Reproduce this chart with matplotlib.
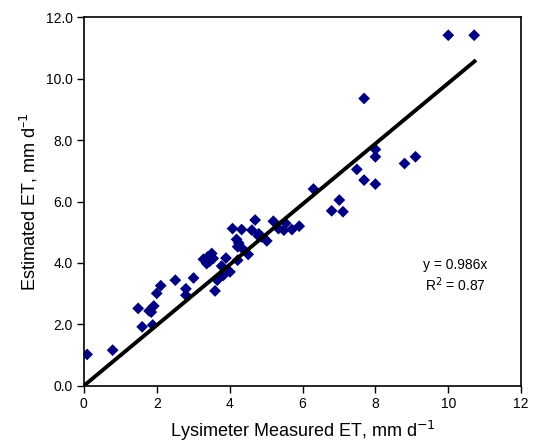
import numpy as np
import matplotlib.pyplot as plt

plt.rcParams['font.family'] = ['Liberation Sans', 'DejaVu Sans']

# lysimeter measured ET (x) and estimated ET (y), mm/d
measured = [0.09, 0.79, 1.49, 1.60, 1.79, 1.92, 1.89, 2.00, 2.11, 2.51,
            2.80, 2.80, 3.01, 3.28, 3.37, 3.51, 3.55, 3.60, 3.66, 3.78,
            3.90, 3.83, 4.01, 4.08, 4.33, 4.19, 4.22, 4.35, 4.22, 4.51,
            4.61, 4.70, 4.79, 4.88, 5.02, 5.20, 5.34, 5.49, 5.54, 5.71,
            5.91, 6.30, 6.80, 7.01, 7.11, 7.49, 7.69, 7.69, 8.00, 8.00,
            8.00, 8.80, 9.10, 10.00, 10.71, 3.45, 3.40, 1.85, 4.25, 4.80]
estimated = [1.02, 1.16, 2.52, 1.92, 2.44, 2.60, 1.98, 3.01, 3.26, 3.44,
             3.16, 2.95, 3.51, 4.12, 3.98, 4.31, 4.15, 3.09, 3.44, 3.90,
             4.16, 3.60, 3.71, 5.12, 5.09, 4.77, 4.53, 4.47, 4.09, 4.28,
             5.07, 5.40, 4.88, 4.85, 4.72, 5.36, 5.12, 5.07, 5.29, 5.09,
             5.20, 6.41, 5.70, 6.05, 5.67, 7.05, 6.70, 9.36, 7.70, 7.46,
             6.57, 7.24, 7.46, 11.42, 11.42, 4.05, 4.20, 2.40, 4.65, 4.95]

slope = 0.986
fit_x = [0.0, 10.72]

fig = plt.figure(figsize=(5.34, 4.47), dpi=100)
ax = fig.add_axes([0.157, 0.137, 0.819, 0.824])

ax.scatter(measured, estimated, marker='D', s=36, color='#000080',
           edgecolors='none', zorder=2)
ax.plot(fit_x, [slope * v for v in fit_x], color='black', lw=2.8, zorder=3)

ax.set_xlim(0, 12)
ax.set_ylim(0, 12)
ax.set_xticks(np.arange(0, 13, 2))
ax.set_yticks(np.arange(0, 13, 2))
ax.set_yticklabels(['%.1f' % v for v in np.arange(0, 13, 2)])
ax.tick_params(direction='out', length=5, width=1, labelsize=10, pad=3)
for sp in ax.spines.values():
    sp.set_linewidth(1.2)

ax.set_xlabel('Lysimeter Measured ET, mm d$^{-1}$', fontsize=13, labelpad=6)
ax.set_ylabel('Estimated ET, mm d$^{\u20131}$', fontsize=13, labelpad=4)

ax.text(10.2, 3.95, 'y = 0.986x', fontsize=10, ha='center', va='center')
ax.text(10.2, 3.3, 'R$^2$ = 0.87', fontsize=10, ha='center', va='center')

fig.savefig('out.png', dpi=100)
